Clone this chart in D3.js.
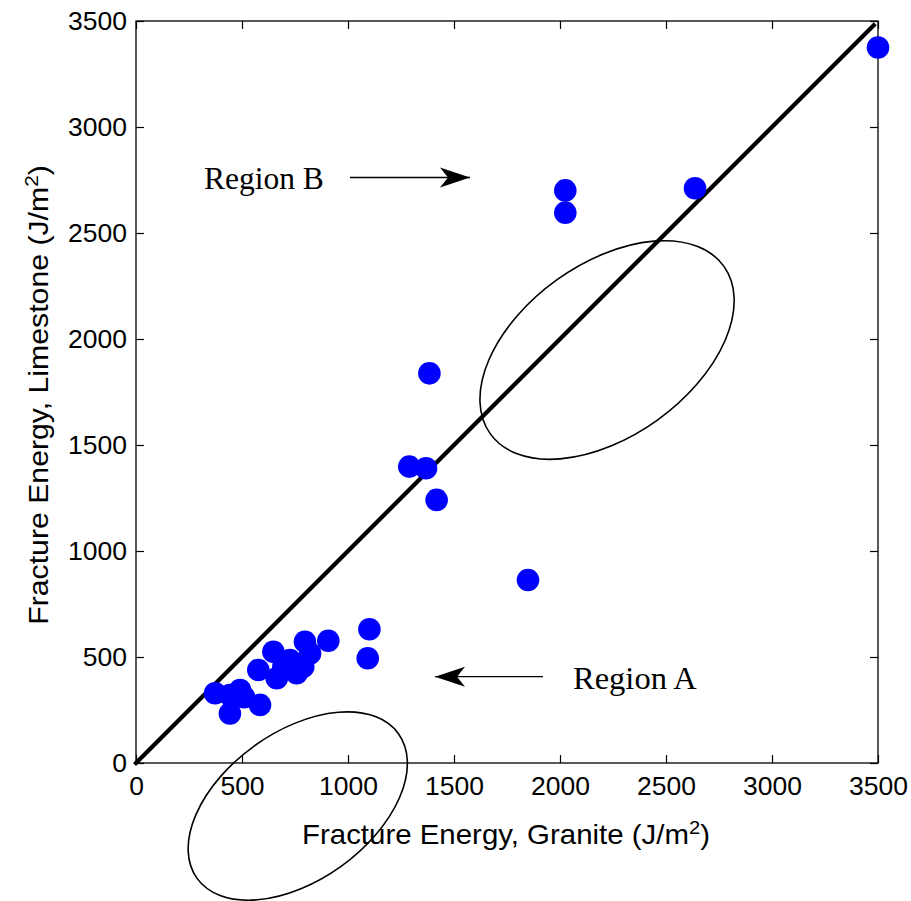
<!DOCTYPE html>
<html><head><meta charset="utf-8">
<script src="https://cdn.jsdelivr.net/npm/d3@7"></script>
<style>body{margin:0;background:#fff}</style>
</head><body>
<svg id="chart" width="911" height="901"></svg>
<script>
// Data
const granite   = [3500, 2025, 2025, 2637, 1384, 1289, 1368, 1418, 1849, 1101, 1093, 907, 797, 821, 648, 726, 695, 789, 758, 577, 664, 373, 443, 491, 510, 443, 585];
const limestone = [3375, 2701, 2596, 2711, 1838, 1398, 1390, 1241, 863, 631, 494, 577, 572, 517, 525, 486, 454, 454, 423, 439, 400, 329, 321, 344, 310, 234, 274];
const xTicks = [0, 500, 1000, 1500, 2000, 2500, 3000, 3500];
const yTicks = [0, 500, 1000, 1500, 2000, 2500, 3000, 3500];
const refLine = [[0, 0], [3480, 3480]];
const ellipseCx = [2222, 763];
const ellipseCy = [1948, -203];
const ellipseRx = [678, 585];
const ellipseRy = [407, 350];
const ellipseAngle = [35.7, 35.7];
const regionLabels = ["Region B", "Region A"];

const svg = d3.select("#chart");
const L = 136, R = 878, T = 21, B = 763;
const x = d3.scaleLinear().domain([0, 3500]).range([L, R]);
const y = d3.scaleLinear().domain([0, 3500]).range([B, T]);
const sansFont = "'Liberation Sans', Arial, sans-serif";
const serifFont = "'Liberation Serif', 'Times New Roman', serif";

// Axes box
svg.append("rect").attr("x", L).attr("y", T).attr("width", R - L).attr("height", B - T)
  .attr("fill", "none").attr("stroke", "#000").attr("stroke-width", 1.3);

const tl = 8;
const axB = svg.append("g").attr("transform", `translate(0,${B})`)
  .call(d3.axisBottom(x).tickValues(xTicks).tickSize(-tl).tickPadding(13).tickFormat(d3.format("d")));
const axT = svg.append("g").attr("transform", `translate(0,${T})`)
  .call(d3.axisTop(x).tickValues(xTicks).tickSize(-tl).tickFormat(""));
const axL = svg.append("g").attr("transform", `translate(${L},0)`)
  .call(d3.axisLeft(y).tickValues(yTicks).tickSize(-tl).tickPadding(9).tickFormat(d3.format("d")));
const axR = svg.append("g").attr("transform", `translate(${R},0)`)
  .call(d3.axisRight(y).tickValues(yTicks).tickSize(-tl).tickFormat(""));
[axB, axT, axL, axR].forEach(a => {
  a.select(".domain").remove();
  a.selectAll("line").attr("stroke", "#000").attr("stroke-width", 1.2);
  a.selectAll("text").attr("font-family", sansFont).attr("font-size", 26.5).attr("fill", "#000");
});
axB.selectAll("text").attr("dy", "0.71em");

// Reference line y = x
svg.append("path").datum(refLine)
  .attr("d", d3.line().x(d => x(d[0])).y(d => y(d[1])))
  .attr("stroke", "#000").attr("stroke-width", 4.2).attr("fill", "none").attr("stroke-linecap", "square");

// Ellipses (data units)
const kx = (x(1) - x(0)), ky = (y(0) - y(1));
ellipseCx.forEach((cx, i) => {
  svg.append("ellipse")
    .attr("cx", 0).attr("cy", 0)
    .attr("rx", ellipseRx[i] * kx).attr("ry", ellipseRy[i] * ky)
    .attr("transform", `translate(${x(cx)},${y(ellipseCy[i])}) rotate(${-ellipseAngle[i]})`)
    .attr("fill", "none").attr("stroke", "#000").attr("stroke-width", 1.6);
});

// Points
svg.append("g").selectAll("circle").data(granite.map((g, i) => [g, limestone[i]]))
  .join("circle")
  .attr("cx", d => x(d[0])).attr("cy", d => y(d[1])).attr("r", 11.3)
  .attr("fill", "#0000ff");

// Arrows with MATLAB-like heads
function arrow(x1, y1, x2, y2) {
  svg.append("line").attr("x1", x1).attr("y1", y1).attr("x2", x2).attr("y2", y2)
    .attr("stroke", "#000").attr("stroke-width", 1.3);
  const dir = Math.sign(x2 - x1);
  const hl = 30, hw = 10, back = 22;
  const p = [[x2, y2], [x2 - dir * hl, y2 - hw], [x2 - dir * back, y2], [x2 - dir * hl, y2 + hw]];
  svg.append("path").attr("d", "M" + p.map(q => q.join(",")).join("L") + "Z").attr("fill", "#000");
}
arrow(350, 177.5, 470, 177.5);
arrow(543, 676.7, 435, 676.7);

svg.append("text").attr("x", 204).attr("y", 188.5).attr("font-family", serifFont)
  .attr("font-size", 31.5).attr("fill", "#000").text(regionLabels[0]);
svg.append("text").attr("x", 573).attr("y", 688.5).attr("font-family", serifFont)
  .attr("font-size", 32.5).attr("fill", "#000").text(regionLabels[1]);

// Axis labels
const xl = svg.append("text").attr("transform", "translate(506,844) scale(1.09,1)").attr("text-anchor", "middle")
  .attr("font-family", sansFont).attr("font-size", 27).attr("fill", "#000");
xl.append("tspan").text("Fracture Energy, Granite (J/m");
xl.append("tspan").attr("font-size", 18.5).attr("dy", -10.5).text("2");
xl.append("tspan").attr("dy", 10.5).text(")");

const yl = svg.append("text").attr("transform", "translate(48,395) rotate(-90) scale(1.12,1)").attr("text-anchor", "middle")
  .attr("font-family", sansFont).attr("font-size", 27).attr("fill", "#000");
yl.append("tspan").text("Fracture Energy, Limestone (J/m");
yl.append("tspan").attr("font-size", 18.5).attr("dy", -10.5).text("2");
yl.append("tspan").attr("dy", 10.5).text(")");
</script>
</body></html>
